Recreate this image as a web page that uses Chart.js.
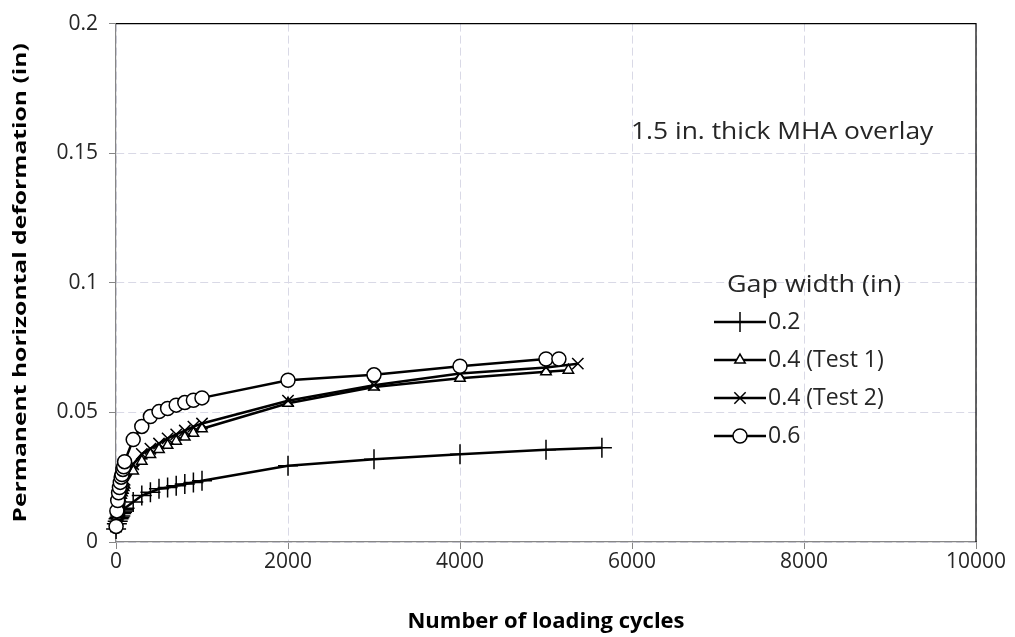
<!DOCTYPE html>
<html>
<head>
<meta charset="utf-8">
<script src="https://cdn.jsdelivr.net/npm/chart.js@4/dist/chart.umd.min.js"></script>
<style>
  html, body { margin: 0; padding: 0; background: #ffffff; }
  #wrap { width: 1015px; height: 637px; }
</style>
</head>
<body>
<div id="wrap"><canvas id="c" width="1015" height="637"></canvas></div>
<script>
// Permanent horizontal deformation vs. number of loading cycles, by gap width

const seriesNames = ['0.2', '0.4 (Test 1)', '0.4 (Test 2)', '0.6'];

const cycles02 = [1, 10, 20, 30, 40, 50, 60, 70, 80, 90, 100, 200, 300, 400, 500, 600, 700, 800, 900, 1000, 2000, 3000, 4000, 5000, 5650];
const deform02 = [0.005, 0.007, 0.008, 0.009, 0.0095, 0.010, 0.011, 0.0115, 0.012, 0.0125, 0.013, 0.0154, 0.0179, 0.0192, 0.0205, 0.021, 0.0217, 0.0224, 0.023, 0.0236, 0.0294, 0.0319, 0.0339, 0.0356, 0.0364];

const cycles04a = [1, 10, 20, 30, 40, 50, 60, 70, 80, 90, 100, 200, 300, 400, 500, 600, 700, 800, 900, 1000, 2000, 3000, 4000, 5000, 5260];
const deform04a = [0.006, 0.010, 0.013, 0.015, 0.016, 0.017, 0.018, 0.019, 0.020, 0.021, 0.022, 0.0274, 0.0312, 0.0338, 0.0357, 0.0373, 0.0389, 0.0405, 0.042, 0.0437, 0.0535, 0.0598, 0.0632, 0.0657, 0.0663];

const cycles04b = [1, 10, 20, 30, 40, 50, 60, 70, 80, 90, 100, 200, 300, 400, 500, 600, 700, 800, 900, 1000, 2000, 3000, 4000, 5000, 5370];
const deform04b = [0.006, 0.011, 0.014, 0.016, 0.018, 0.019, 0.020, 0.021, 0.022, 0.023, 0.024, 0.030, 0.034, 0.036, 0.038, 0.040, 0.0415, 0.043, 0.0445, 0.0457, 0.0545, 0.0605, 0.065, 0.0673, 0.0688];

const cycles06 = [1, 10, 20, 30, 40, 50, 60, 70, 80, 90, 100, 200, 300, 400, 500, 600, 700, 800, 900, 1000, 2000, 3000, 4000, 5000, 5150];
const deform06 = [0.006, 0.012, 0.016, 0.019, 0.021, 0.023, 0.025, 0.026, 0.028, 0.029, 0.031, 0.0395, 0.0446, 0.0484, 0.0503, 0.0515, 0.0528, 0.0538, 0.0547, 0.0556, 0.0624, 0.0645, 0.0678, 0.0706, 0.0706];

const xTickValues = [0, 2000, 4000, 6000, 8000, 10000];
const yTickValues = [0, 0.05, 0.1, 0.15, 0.2];
const yTickLabels = ['0', '0.05', '0.1', '0.15', '0.2'];

const legendTitle = 'Gap width (in)';
const noteText = '1.5 in. thick MHA overlay';
const xTitle = 'Number of loading cycles';
const yTitle = 'Permanent horizontal deformation (in)';

const FONT = '"Open Sans", Lato, sans-serif';
const TEXT = '#262626';

function pairs(xs, ys) { return xs.map((x, i) => ({ x: x, y: ys[i] })); }

const styles = [
  { pointStyle: 'cross',    radius: 10, bg: '#000000', bw: 1.5 },
  { pointStyle: 'triangle', radius: 6,  bg: '#ffffff', bw: 1.5 },
  { pointStyle: 'crossRot', radius: 8,  bg: '#000000', bw: 1.5 },
  { pointStyle: 'circle',   radius: 7,  bg: '#ffffff', bw: 1.5 }
];

const seriesData = [pairs(cycles02, deform02), pairs(cycles04a, deform04a), pairs(cycles04b, deform04b), pairs(cycles06, deform06)];

const datasets = seriesData.map((d, i) => ({
  label: seriesNames[i],
  data: d,
  borderColor: '#000000',
  borderWidth: 2.5,
  pointStyle: styles[i].pointStyle,
  pointRadius: styles[i].radius,
  pointBackgroundColor: styles[i].bg,
  pointBorderColor: '#000000',
  pointBorderWidth: styles[i].bw,
  tension: 0,
  clip: false,
  order: seriesData.length - i
}));

// text drawn with an optional horizontal stretch and rotation
function drawText(ctx, text, x, y, font, opts) {
  const o = Object.assign({ sx: 1, rot: 0, align: 'left', color: TEXT }, opts || {});
  ctx.save();
  ctx.translate(x, y);
  ctx.rotate(o.rot);
  ctx.scale(o.sx, 1);
  ctx.font = font;
  ctx.fillStyle = o.color;
  ctx.textAlign = o.align;
  ctx.textBaseline = 'middle';
  ctx.fillText(text, 0, 0);
  ctx.restore();
}

// frame on the top and right of the plot, y-axis title, caption, and series key
const decorations = {
  id: 'decorations',
  afterDraw(chart) {
    const ctx = chart.ctx;
    const a = chart.chartArea;
    ctx.save();
    ctx.strokeStyle = '#000000';
    ctx.lineWidth = 1.2;
    ctx.beginPath();
    ctx.moveTo(a.left, a.top);
    ctx.lineTo(a.right, a.top);
    ctx.lineTo(a.right, a.bottom);
    ctx.stroke();

    drawText(ctx, yTitle, 21, (a.top + a.bottom) / 2, 'bold 17px ' + FONT,
      { rot: -Math.PI / 2, sx: 1.45, align: 'center', color: '#000000' });

    drawText(ctx, noteText, 631, 132, '24px ' + FONT, { sx: 1.1 });
    drawText(ctx, legendTitle, 727, 285, '24px ' + FONT, { sx: 1.12 });

    const rows = [322, 360, 398, 436];
    chart.data.datasets.forEach((ds, i) => {
      const y = rows[i];
      ctx.strokeStyle = '#000000';
      ctx.lineWidth = 2.5;
      ctx.beginPath();
      ctx.moveTo(714, y);
      ctx.lineTo(766, y);
      ctx.stroke();
      ctx.fillStyle = ds.pointBackgroundColor;
      ctx.strokeStyle = '#000000';
      ctx.lineWidth = ds.pointBorderWidth;
      Chart.helpers.drawPoint(ctx, { pointStyle: ds.pointStyle, radius: ds.pointRadius, rotation: 0, borderWidth: ds.pointBorderWidth }, 740, y);
      drawText(ctx, ds.label, 768, y, '23px ' + FONT);
    });
    ctx.restore();
  }
};

new Chart(document.getElementById('c'), {
  type: 'line',
  data: { datasets: datasets },
  plugins: [decorations],
  options: {
    responsive: false,
    animation: false,
    layout: { padding: { top: 17, right: 39, left: 0, bottom: 0 } },
    plugins: { legend: { display: false }, tooltip: { enabled: false } },
    scales: {
      x: {
        type: 'linear',
        min: 0,
        max: 10000,
        afterBuildTicks(scale) { scale.ticks = xTickValues.map(v => ({ value: v })); },
        afterFit(scale) { scale.height = 95; },
        ticks: {
          color: TEXT,
          font: { family: FONT, size: 21 },
          padding: 0,
          maxRotation: 0,
          callback: (v) => String(v)
        },
        grid: { color: '#d9d9e6', lineWidth: 1, tickColor: '#868686', tickLength: 7, tickWidth: 1 },
        border: { color: '#868686', width: 1.2, dash: [8, 4] },
        title: {
          display: true,
          text: xTitle,
          color: '#000000',
          font: { family: FONT, size: 22, weight: 'bold' },
          padding: { top: 0, bottom: 2 }
        }
      },
      y: {
        type: 'linear',
        min: 0,
        max: 0.2,
        afterBuildTicks(scale) { scale.ticks = yTickValues.map(v => ({ value: v })); },
        afterFit(scale) { scale.width = 116; },
        ticks: {
          color: TEXT,
          font: { family: FONT, size: 21 },
          padding: 11,
          callback: (v) => yTickLabels[yTickValues.indexOf(v)] ?? String(v)
        },
        grid: { color: '#d9d9e6', lineWidth: 1, tickColor: '#868686', tickLength: 7, tickWidth: 1 },
        border: { color: '#868686', width: 1.2, dash: [8, 4] },
        title: { display: false }
      }
    }
  }
});
</script>
</body>
</html>
